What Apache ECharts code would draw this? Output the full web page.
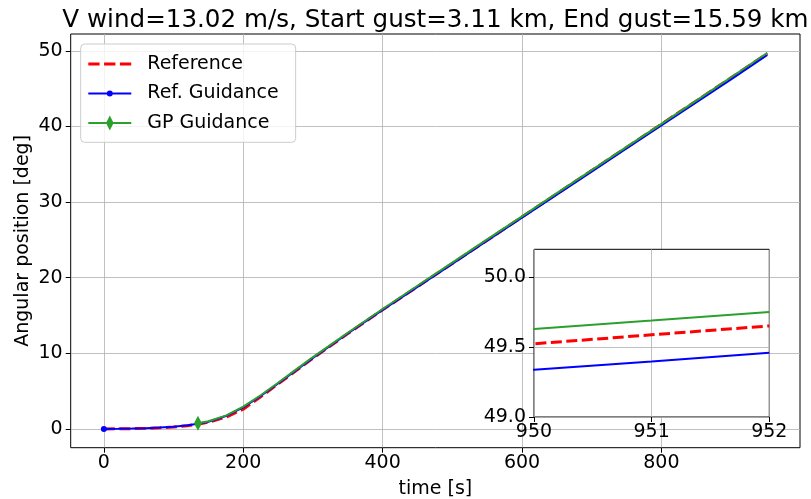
<!DOCTYPE html>
<html>
<head>
<meta charset="utf-8">
<script src="https://cdn.jsdelivr.net/npm/echarts@6/dist/echarts.min.js"></script>
<style>
  html, body { margin: 0; padding: 0; background: #ffffff; }
  #chart { width: 811px; height: 499px; }
</style>
</head>
<body>
<div id="chart"></div>
<script>
// Time stamps [s] shared by the reference trajectory and the reference guidance
const timeRef = [0, 20, 40, 60, 80, 100, 120, 135, 150, 175, 200, 225, 250, 275, 300,
  350, 400, 450, 500, 550, 600, 650, 700, 750, 800, 850, 900, 950, 951, 952];

// Angular position [deg] of the reference trajectory
const angleReference = [0, 0.01, 0.03, 0.07, 0.14, 0.25, 0.42, 0.62, 0.88, 1.55, 2.6, 4.25, 5.95, 7.65, 9.35,
  12.6, 15.75, 18.82, 21.89, 24.96, 28.03, 31.1, 34.17, 37.24, 40.31, 43.38, 46.45, 49.524, 49.588, 49.652];

// Angular position [deg] under the reference guidance
const angleRefGuidance = [0, 0.01, 0.04, 0.09, 0.17, 0.29, 0.47, 0.68, 0.95, 1.7, 2.85, 4.35, 6.0, 7.7, 9.4,
  12.62, 15.74, 18.79, 21.84, 24.89, 27.94, 30.99, 34.04, 37.09, 40.14, 43.19, 46.24, 49.338, 49.398, 49.459];

// GP guidance starts once the gust begins
const timeGp = [135, 150, 175, 200, 225, 250, 275, 300, 350, 400, 450, 500, 550, 600, 650, 700,
  750, 800, 850, 900, 950, 951, 952];
const angleGp = [0.75, 1.0, 1.75, 2.95, 4.45, 6.1, 7.8, 9.5, 12.72, 15.86, 18.94, 22.0, 25.06, 28.12,
  31.18, 34.24, 37.3, 40.36, 43.42, 46.52, 49.63, 49.69, 49.752];

// Tick positions
const mainXTicks = [0, 200, 400, 600, 800];
const mainYTicks = [0, 10, 20, 30, 40, 50];
const insetXTicks = [950, 951, 952];
const insetYTicks = [49.0, 49.5, 50.0];

const FONT = 'DejaVu Sans';
const GRID_LINE = { color: '#b0b0b0', width: 0.8 };
const TICK_LINE = { color: '#000000', width: 1 };

// Legend keys drawn as 43x16 paths (line + marker); the two zero-area
// triangles at the corners pin the path's bounding box to the full key size.
const KEY_FRAME = 'M0,0 L0.001,0 L0,0.001 Z M43,16 L42.999,16 L43,15.999 Z ';
const KEY_REFERENCE = 'path://' + KEY_FRAME +
  'M0,6.5 L11.3,6.5 L11.3,9.5 L0,9.5 Z M15.8,6.5 L27.1,6.5 L27.1,9.5 L15.8,9.5 Z M31.6,6.5 L42.9,6.5 L42.9,9.5 L31.6,9.5 Z';
const KEY_REF_GUIDANCE = 'path://' + KEY_FRAME +
  'M0,7 L18.6,7 L18.6,9 L0,9 Z M24.4,7 L43,7 L43,9 L24.4,9 Z ' +
  'M18.5,8 A3,3 0 1,1 24.5,8 A3,3 0 1,1 18.5,8 Z';
const KEY_GP_GUIDANCE = 'path://' + KEY_FRAME +
  'M0,7 L18,7 L18,9 L0,9 Z M25,7 L43,7 L43,9 L25,9 Z ' +
  'M21.5,0.5 L25.3,8 L21.5,15.5 L17.7,8 Z';

// Build [t, y] pairs; only the item at markIdx keeps its symbol
function pairs(ts, ys, markIdx) {
  return ts.map((t, i) => i === markIdx ? [t, ys[i]] : { value: [t, ys[i]], symbol: 'none' });
}

function valueAxis(extra, ticks, labelExtra) {
  return Object.assign({
    type: 'value',
    axisLine: { show: false, onZero: false },
    axisTick: { show: true, length: 5, lineStyle: TICK_LINE, customValues: ticks },
    axisLabel: Object.assign({ fontFamily: FONT, fontSize: 19, color: '#000000', customValues: ticks }, labelExtra),
    splitLine: { show: true, lineStyle: GRID_LINE }
  }, extra);
}

const chart = echarts.init(document.getElementById('chart'), null, { renderer: 'canvas' });

chart.setOption({
  animation: false,
  backgroundColor: '#ffffff',
  title: {
    text: 'V wind=13.02 m/s, Start gust=3.11 km, End gust=15.59 km',
    left: 435.4, top: 8.5, padding: 0, textAlign: 'center',
    textStyle: { fontFamily: FONT, fontSize: 24.6, fontWeight: 'normal', color: '#000000' }
  },
  legend: {
    data: [
      { name: 'Reference', icon: KEY_REFERENCE },
      { name: 'Ref. Guidance', icon: KEY_REF_GUIDANCE },
      { name: 'GP Guidance', icon: KEY_GP_GUIDANCE }
    ],
    orient: 'vertical', left: 80.7, top: 44,
    padding: [10.5, 17, 9.8, 7.6],
    itemWidth: 43, itemHeight: 16, itemGap: 10.5,
    itemStyle: { borderWidth: 0 },
    backgroundColor: 'rgba(255,255,255,0.8)', borderColor: '#cccccc', borderWidth: 1, borderRadius: 4,
    textStyle: { fontFamily: FONT, fontSize: 19, color: '#000000', padding: [0, 0, 0, 11] }
  },
  grid: [
    { left: 70.7, top: 34, width: 729.3, height: 413.7, show: true, outerBoundsMode: 'none', containLabel: false,
      backgroundColor: 'transparent', borderColor: '#000000', borderWidth: 1 },
    { left: 534, top: 249.3, width: 235.3, height: 167.7, show: true, z: 3, outerBoundsMode: 'none', containLabel: false,
      backgroundColor: '#ffffff', borderColor: '#000000', borderWidth: 1 }
  ],
  xAxis: [
    valueAxis({
      gridIndex: 0, min: -47.6, max: 998.9,
      name: 'time [s]', nameLocation: 'middle', nameGap: 32,
      nameTextStyle: { fontFamily: FONT, fontSize: 19, color: '#000000' }
    }, mainXTicks, { margin: 6 }),
    valueAxis({ gridIndex: 1, min: 950, max: 952, z: 4 }, insetXTicks, { margin: 6 })
  ],
  yAxis: [
    valueAxis({
      gridIndex: 0, min: -2.49, max: 52.24,
      name: 'Angular position [deg]', nameLocation: 'middle', nameGap: 38, nameMoveOverlap: false,
      nameTextStyle: { fontFamily: FONT, fontSize: 19, color: '#000000' }
    }, mainYTicks, { margin: 8 }),
    valueAxis({ gridIndex: 1, min: 49.0, max: 50.2, z: 4 }, insetYTicks,
      { margin: 8, formatter: v => v.toFixed(1) })
  ],
  series: [
    { name: 'Reference', type: 'line', xAxisIndex: 0, yAxisIndex: 0, symbol: 'none',
      color: '#ff0000', lineStyle: { width: 3, type: [11, 4.5] },
      data: timeRef.map((t, i) => [t, angleReference[i]]) },
    { name: 'Ref. Guidance', type: 'line', xAxisIndex: 0, yAxisIndex: 0,
      symbol: 'circle', symbolSize: 6, showSymbol: true,
      color: '#0000ff', lineStyle: { width: 2 },
      data: pairs(timeRef, angleRefGuidance, 0) },
    { name: 'GP Guidance', type: 'line', xAxisIndex: 0, yAxisIndex: 0,
      symbol: 'diamond', symbolSize: [8, 15], showSymbol: true,
      color: '#2ca02c', lineStyle: { width: 2 },
      data: pairs(timeGp, angleGp, 0) },

    { name: 'Reference inset', type: 'line', xAxisIndex: 1, yAxisIndex: 1, symbol: 'none', z: 5,
      color: '#ff0000', lineStyle: { width: 3, type: [11, 4.5] },
      data: timeRef.map((t, i) => [t, angleReference[i]]) },
    { name: 'Ref. Guidance inset', type: 'line', xAxisIndex: 1, yAxisIndex: 1, symbol: 'none', z: 5,
      color: '#0000ff', lineStyle: { width: 2 },
      data: timeRef.map((t, i) => [t, angleRefGuidance[i]]) },
    { name: 'GP Guidance inset', type: 'line', xAxisIndex: 1, yAxisIndex: 1, symbol: 'none', z: 5,
      color: '#2ca02c', lineStyle: { width: 2 },
      data: timeGp.map((t, i) => [t, angleGp[i]]) }
  ]
});
</script>
</body>
</html>
